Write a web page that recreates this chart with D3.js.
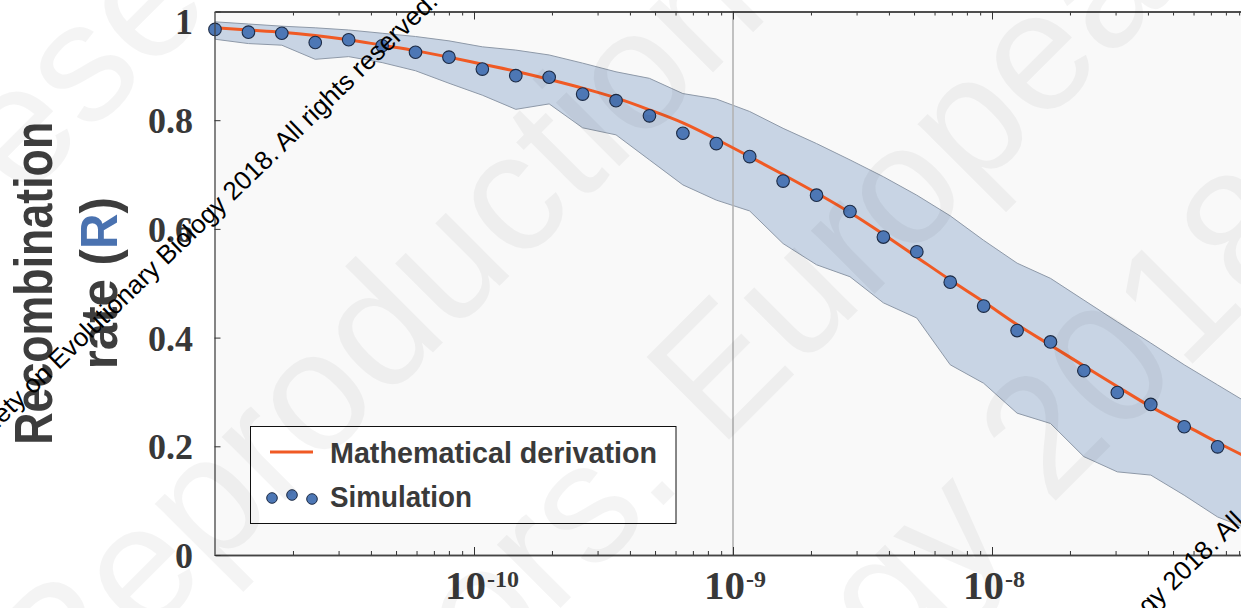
<!DOCTYPE html>
<html>
<head>
<meta charset="utf-8">
<script src="https://cdn.jsdelivr.net/npm/d3@7"></script>
<style>
  body { margin: 0; background: #fff; }
  svg { display: block; }
</style>
</head>
<body>
<div id="chart"></div>
<script>
// Recombination rate R vs rate (log axis): derivation curve, simulated means and their range

// grid of rates used by the simulation (the last one sits just past the visible edge)
const rates = [
  1.000e-11, 1.346e-11, 1.811e-11, 2.438e-11, 3.281e-11, 4.418e-11, 5.945e-11, 8.003e-11,
  1.077e-10, 1.450e-10, 1.951e-10, 2.627e-10, 3.535e-10, 4.758e-10, 6.405e-10, 8.620e-10,
  1.160e-9, 1.561e-9, 2.102e-9, 2.829e-9, 3.807e-9, 5.125e-9, 6.898e-9, 9.284e-9,
  1.250e-8, 1.682e-8, 2.263e-8, 3.047e-8, 4.102e-8, 5.521e-8, 7.430e-8, 1.000e-7
];

// orange curve read at each rate
const derivation = [
  0.970, 0.966, 0.962, 0.956, 0.948, 0.938, 0.928, 0.916,
  0.903, 0.890, 0.875, 0.859, 0.841, 0.819, 0.795, 0.765,
  0.733, 0.700, 0.666, 0.630, 0.590, 0.548, 0.506, 0.466,
  0.424, 0.386, 0.348, 0.310, 0.273, 0.240, 0.207, 0.176
];

// simulated points (blue dots)
const simulation = [
  0.967, 0.962, 0.960, 0.943, 0.948, 0.937, 0.925, 0.916,
  0.894, 0.882, 0.879, 0.848, 0.836, 0.808, 0.776, 0.757,
  0.733, 0.688, 0.662, 0.632, 0.585, 0.558, 0.502, 0.458,
  0.413, 0.392, 0.339, 0.299, 0.277, 0.236, 0.199
];

// shaded range of the simulations
const simUpper = [
  0.981, 0.977, 0.973, 0.970, 0.966, 0.960, 0.954, 0.946,
  0.935, 0.929, 0.920, 0.905, 0.889, 0.877, 0.849, 0.839,
  0.816, 0.785, 0.757, 0.727, 0.696, 0.662, 0.624, 0.579,
  0.537, 0.509, 0.469, 0.429, 0.390, 0.350, 0.313, 0.276
];
const simLower = [
  0.949, 0.941, 0.938, 0.912, 0.917, 0.906, 0.891, 0.868,
  0.846, 0.820, 0.830, 0.786, 0.773, 0.727, 0.681, 0.653,
  0.633, 0.573, 0.534, 0.512, 0.464, 0.436, 0.350, 0.316,
  0.261, 0.242, 0.181, 0.153, 0.147, 0.110, 0.070, 0.046
];

const yTicks = [0, 0.2, 0.4, 0.6, 0.8, 1];
const yTickLabels = ['0', '0.2', '0.4', '0.6', '0.8', '1'];
const xMajor = [1e-10, 1e-9, 1e-8];
const xMajorExp = ['-10', '-9', '-8'];
const markerRate = 1e-9;
const legendLabels = ['Mathematical derivation', 'Simulation'];

const width = 1241, height = 608;
const plotLeft = 214.5, plotTop = 11.5, plotBottom = 555, plotRight = 1251;

const svg = d3.select('#chart').append('svg')
  .attr('width', width)
  .attr('height', height);

const x = d3.scaleLog().domain([1e-11, 1e-7]).range([215, 1251]);
const y = d3.scaleLinear().domain([0, 1]).range([plotBottom, plotTop]);

// plot background
svg.append('rect')
  .attr('x', plotLeft).attr('y', plotTop)
  .attr('width', plotRight - plotLeft).attr('height', plotBottom - plotTop)
  .attr('fill', '#f9f9f9');

// range band
const band = d3.area()
  .x((d, i) => x(rates[i]))
  .y0((d, i) => y(simLower[i]))
  .y1((d, i) => y(simUpper[i]));

svg.append('path')
  .datum(simUpper)
  .attr('d', band)
  .attr('fill', '#c8d4e4')
  .attr('stroke', '#8e99a8')
  .attr('stroke-width', 1);

// vertical reference line
svg.append('line')
  .attr('x1', x(markerRate)).attr('x2', x(markerRate))
  .attr('y1', plotTop).attr('y2', plotBottom)
  .attr('stroke', '#b3b3b3')
  .attr('stroke-width', 1.6);

// derivation curve
const line = d3.line()
  .x((d, i) => x(rates[i]))
  .y(d => y(d))
  .curve(d3.curveMonotoneX);

svg.append('path')
  .datum(derivation)
  .attr('d', line)
  .attr('fill', 'none')
  .attr('stroke', '#f05a24')
  .attr('stroke-width', 3);

// simulation dots
svg.selectAll('.dot')
  .data(simulation)
  .enter()
  .append('circle')
  .attr('class', 'dot')
  .attr('cx', (d, i) => x(rates[i]))
  .attr('cy', d => y(d))
  .attr('r', 6.3)
  .attr('fill', '#4d77b5')
  .attr('stroke', '#1c2a44')
  .attr('stroke-width', 1.1);

// axes: ticks point inward, minor ticks shorter
const allTicks = x.ticks();
const minorTicks = allTicks.filter(t => Math.abs(Math.log10(t) - Math.round(Math.log10(t))) > 1e-6);

function styleAxis(g) {
  g.selectAll('.domain').attr('stroke', '#444').attr('stroke-width', 1.3);
  g.selectAll('.tick line').attr('stroke', '#333').attr('stroke-width', 1);
  g.selectAll('.tick text').remove();
}

svg.append('g')
  .attr('transform', `translate(0,${plotBottom})`)
  .call(d3.axisBottom(x).tickValues(minorTicks).tickSizeInner(-4).tickSizeOuter(0))
  .call(styleAxis);
svg.append('g')
  .attr('transform', `translate(0,${plotBottom})`)
  .call(d3.axisBottom(x).tickValues(xMajor).tickSizeInner(-8).tickSizeOuter(0))
  .call(styleAxis);
svg.append('g')
  .attr('transform', `translate(0,${plotTop})`)
  .call(d3.axisTop(x).tickValues(minorTicks).tickSizeInner(-4).tickSizeOuter(0))
  .call(styleAxis);
svg.append('g')
  .attr('transform', `translate(0,${plotTop})`)
  .call(d3.axisTop(x).tickValues(xMajor).tickSizeInner(-8).tickSizeOuter(0))
  .call(styleAxis);
svg.append('g')
  .attr('transform', `translate(${plotLeft},0)`)
  .call(d3.axisLeft(y).tickValues(yTicks).tickSizeInner(-6).tickSizeOuter(0))
  .call(styleAxis);

// y tick labels
svg.selectAll('.ylab')
  .data(yTicks)
  .enter()
  .append('text')
  .attr('class', 'ylab')
  .attr('x', 193)
  .attr('y', d => Math.max(y(d), 21) + 13)
  .attr('text-anchor', 'end')
  .attr('font-family', 'Liberation Serif, serif')
  .attr('font-weight', 'bold')
  .attr('font-size', 36)
  .attr('fill', '#383838')
  .text((d, i) => yTickLabels[i]);

// x tick labels as 10^n
xMajor.forEach((t, i) => {
  svg.append('text')
    .attr('x', x(t) + 12)
    .attr('y', 599)
    .attr('text-anchor', 'end')
    .attr('font-family', 'Liberation Serif, serif')
    .attr('font-weight', 'bold')
    .attr('font-size', 41)
    .attr('fill', '#383838')
    .text('10');
  svg.append('text')
    .attr('x', x(t) + 13)
    .attr('y', 587)
    .attr('font-family', 'Liberation Serif, serif')
    .attr('font-weight', 'bold')
    .attr('font-size', 24)
    .attr('fill', '#383838')
    .text(xMajorExp[i]);
});

// y axis title on two lines
const midY = (plotTop + plotBottom) / 2;
svg.append('text')
  .attr('transform', `translate(52,${midY}) rotate(-90)`)
  .attr('text-anchor', 'middle')
  .attr('font-family', 'Liberation Sans, Arial, sans-serif')
  .attr('font-weight', 'bold')
  .attr('font-size', 54)
  .attr('fill', '#3d3d3d')
  .attr('textLength', 323)
  .attr('lengthAdjust', 'spacingAndGlyphs')
  .text('Recombination');

const t2 = svg.append('text')
  .attr('transform', `translate(117,${midY}) rotate(-90)`)
  .attr('text-anchor', 'middle')
  .attr('font-family', 'Liberation Sans, Arial, sans-serif')
  .attr('font-weight', 'bold')
  .attr('font-size', 52)
  .attr('fill', '#3d3d3d')
  .attr('textLength', 172)
  .attr('lengthAdjust', 'spacingAndGlyphs');
t2.append('tspan').text('rate (');
t2.append('tspan').attr('fill', '#4a72b0').text('R');
t2.append('tspan').text(')');

// legend
const legend = svg.append('g');
legend.append('rect')
  .attr('x', 250.5).attr('y', 426.5)
  .attr('width', 425.5).attr('height', 97)
  .attr('fill', '#fff')
  .attr('stroke', '#111')
  .attr('stroke-width', 1);
legend.append('line')
  .attr('x1', 270).attr('x2', 313)
  .attr('y1', 452).attr('y2', 452)
  .attr('stroke', '#f05a24')
  .attr('stroke-width', 3);
[[272, 498], [292, 495], [312, 499]].forEach(p => {
  legend.append('circle')
    .attr('cx', p[0]).attr('cy', p[1]).attr('r', 5.3)
    .attr('fill', '#4d77b5').attr('stroke', '#1c2a44').attr('stroke-width', 1);
});
legend.selectAll('.legtext')
  .data(legendLabels)
  .enter()
  .append('text')
  .attr('class', 'legtext')
  .attr('x', 330)
  .attr('y', (d, i) => i === 0 ? 463 : 507)
  .attr('font-family', 'Liberation Sans, Arial, sans-serif')
  .attr('font-weight', 'bold')
  .attr('font-size', 30)
  .attr('fill', '#3a3a3a')
  .attr('textLength', (d, i) => i === 0 ? 327 : 142)
  .attr('lengthAdjust', 'spacingAndGlyphs')
  .text(d => d);

// watermarks: place a text so that the centre of character idx lands on (px, py)
function stamp(str, idx, px, py, angle, size, fill, opacity) {
  const g = svg.append('g').attr('transform', `translate(${px},${py}) rotate(${angle})`);
  const t = g.append('text')
    .attr('font-family', 'Liberation Sans, Arial, sans-serif')
    .attr('font-size', size)
    .attr('fill', fill)
    .attr('fill-opacity', opacity)
    .text(str);
  const node = t.node();
  const pre = idx > 0 ? node.getSubStringLength(0, idx) : 0;
  const cw = node.getSubStringLength(idx, 1);
  t.attr('x', -(pre + cw / 2)).attr('y', size * 0.36);
}

stamp('reserved', 2, 75, 62, -45, 170, '#000', 0.045);
stamp('Reproduction', 6, 441, 258, -45, 170, '#000', 0.045);
stamp('Authors. European', 9, 716, 366, -45, 170, '#000', 0.045);
stamp('Biology 2018', 8, 1040, 430, -45, 170, '#000', 0.045);

const mark = 'Society on Evolutionary Biology 2018. All rights reserved.';
stamp(mark, mark.indexOf('2018'), 232, 190, -44, 26, '#000', 1);
stamp(mark, mark.indexOf('2018'), 1172, 580, -44, 26, '#000', 1);
</script>
</body>
</html>
